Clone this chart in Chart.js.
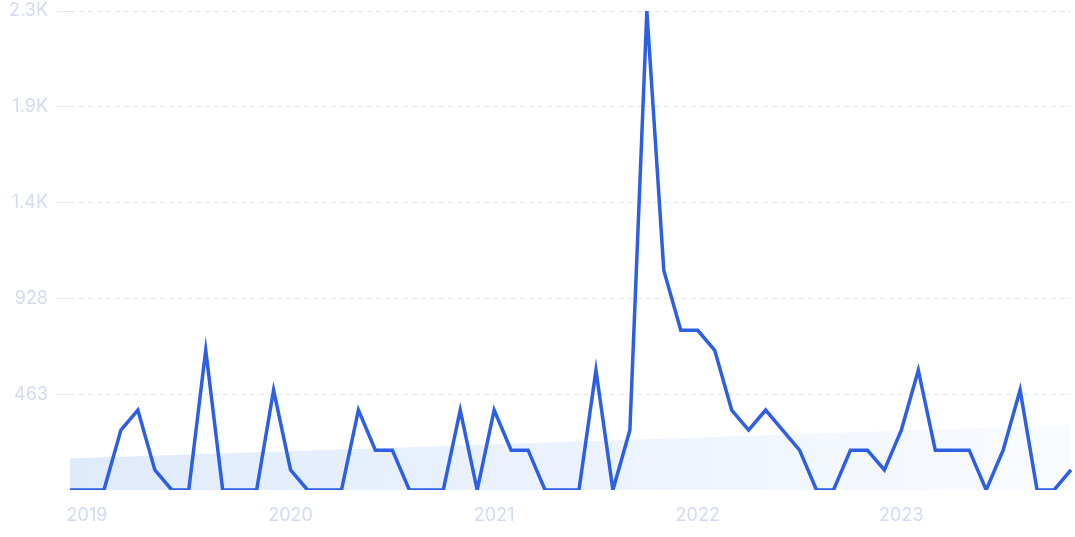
<!DOCTYPE html>
<html>
<head>
<meta charset="utf-8">
<script src="https://cdn.jsdelivr.net/npm/chart.js@4/dist/chart.umd.min.js"></script>
<style>
  html, body { margin: 0; padding: 0; background: #ffffff; }
  #wrap { width: 1075px; height: 537px; position: relative; }
</style>
</head>
<body>
<div id="wrap"><canvas id="c"></canvas></div>
<script>
// Categories: monthly, Dec 2018 .. Nov 2023
const months = [
  '2018-12',
  '2019-01','2019-02','2019-03','2019-04','2019-05','2019-06','2019-07','2019-08','2019-09','2019-10','2019-11','2019-12',
  '2020-01','2020-02','2020-03','2020-04','2020-05','2020-06','2020-07','2020-08','2020-09','2020-10','2020-11','2020-12',
  '2021-01','2021-02','2021-03','2021-04','2021-05','2021-06','2021-07','2021-08','2021-09','2021-10','2021-11','2021-12',
  '2022-01','2022-02','2022-03','2022-04','2022-05','2022-06','2022-07','2022-08','2022-09','2022-10','2022-11','2022-12',
  '2023-01','2023-02','2023-03','2023-04','2023-05','2023-06','2023-07','2023-08','2023-09','2023-10','2023-11'
];

// Series values
const searches = [
  0,
  0, 0, 290, 387, 97, 0, 0, 676, 0, 0, 0, 484,
  97, 0, 0, 0, 387, 193, 193, 0, 0, 0, 387, 0,
  387, 193, 193, 0, 0, 0, 580, 0, 290, 2319, 1063, 773,
  773, 676, 387, 290, 387, 290, 193, 0, 0, 193, 193, 97,
  290, 580, 193, 193, 193, 0, 193, 484, 0, 0, 97
];

// Trend line (start and end values)
const trendStart = 153;
const trendEnd = 315;

// Y axis tick values and labels
const yTickValues = [0, 463.8, 927.6, 1391.4, 1855.2, 2319];
const yTickLabels = ['', '463', '928', '1.4K', '1.9K', '2.3K'];

const labelColor = '#d3dbf3';
const gridColor = '#dfe5f5';

const trendData = [
  { x: months[0], y: trendStart },
  { x: months[months.length - 1], y: trendEnd }
];

const ctx = document.getElementById('c').getContext('2d');
new Chart(ctx, {
  type: 'line',
  data: {
    labels: months,
    datasets: [
      {
        label: 'Searches',
        data: searches,
        borderColor: '#2d5fe5',
        borderWidth: 3.5,
        pointRadius: 0,
        tension: 0,
        fill: false,
        order: 0
      },
      {
        label: 'Trend',
        data: trendData,
        borderWidth: 0,
        borderColor: 'rgba(0,0,0,0)',
        pointRadius: 0,
        tension: 0,
        fill: 'origin',
        order: 1,
        backgroundColor: function (context) {
          const chart = context.chart;
          const area = chart.chartArea;
          if (!area) return '#e6effc';
          const g = chart.ctx.createLinearGradient(area.left, 0, area.right, 0);
          g.addColorStop(0, '#dfeafb');
          g.addColorStop(1, '#f9fbff');
          return g;
        }
      }
    ]
  },
  options: {
    responsive: true,
    maintainAspectRatio: false,
    animation: false,
    layout: { padding: { top: 11, right: 4, bottom: 0, left: 0 } },
    plugins: {
      legend: { display: false },
      tooltip: { enabled: false }
    },
    scales: {
      x: {
        type: 'category',
        offset: false,
        grid: { display: false, drawTicks: false },
        border: { display: false },
        ticks: {
          autoSkip: false,
          maxRotation: 0,
          minRotation: 0,
          padding: 15,
          color: labelColor,
          font: { family: 'Inter', size: 18 },
          callback: function (value, index) {
            const m = months[index];
            return m.endsWith('-01') ? m.slice(0, 4) : '';
          }
        },
        afterFit: function (scale) {
          scale.height = 47;
          scale.paddingLeft = 0;
          scale.paddingRight = 0;
        }
      },
      y: {
        min: 0,
        max: 2319,
        afterBuildTicks: function (scale) {
          scale.ticks = yTickValues.map(v => ({ value: v }));
        },
        grid: {
          color: function (c) { return c.index === 0 ? 'rgba(0,0,0,0)' : gridColor; },
          lineWidth: 1,
          tickLength: 13,
          drawTicks: true
        },
        border: { display: false, dash: [5, 4] },
        ticks: {
          padding: 9,
          color: labelColor,
          font: { family: 'Inter', size: 18 },
          callback: function (value, index) { return yTickLabels[index]; }
        },
        afterFit: function (scale) {
          scale.width = 70;
          scale.paddingTop = 0;
          scale.paddingBottom = 0;
        }
      }
    }
  }
});
</script>
</body>
</html>
